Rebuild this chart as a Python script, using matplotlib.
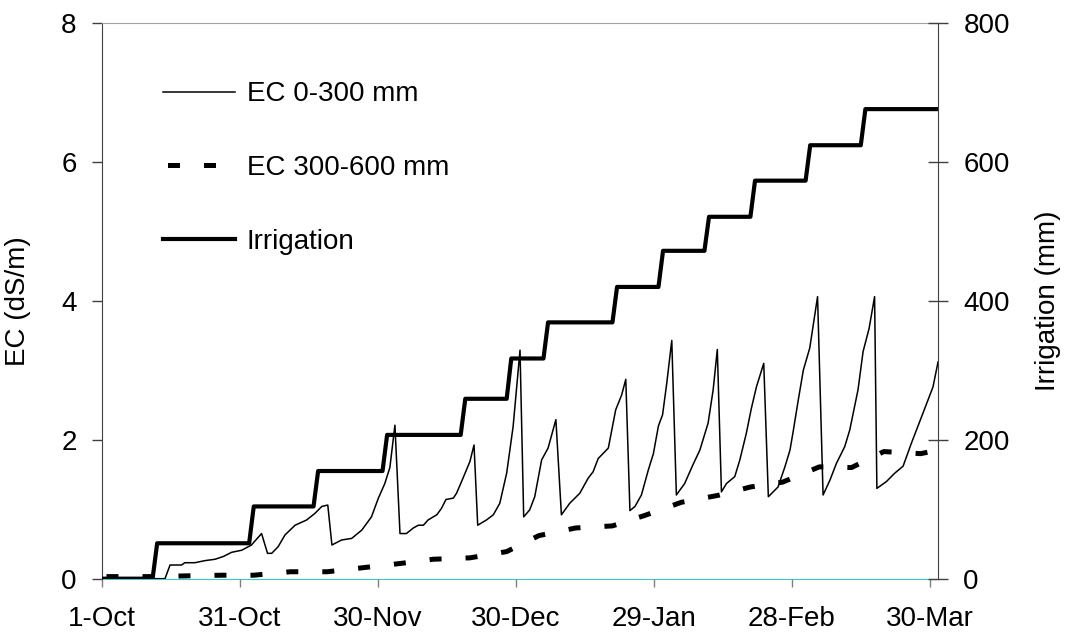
import matplotlib
matplotlib.use('Agg')
import matplotlib.pyplot as plt

plt.rcParams['font.family'] = ['Liberation Sans', 'DejaVu Sans']

# days after 1-Oct
tick_days = [0, 30, 60, 90, 120, 150, 180]
tick_labels = ['1-Oct', '31-Oct', '30-Nov', '30-Dec', '29-Jan', '28-Feb', '30-Mar']

# EC 0-300 mm (dS/m)
ec_top_days = [0, 13.7, 14.8, 17.3, 18, 20.2, 22.4, 24.6, 26.4, 28.2, 30.4, 32.5, 34.7, 36, 36.9,
               38.3, 39.8, 42, 44.5, 46.3, 47.8, 49.1, 50, 52.1, 54.3, 56.5, 58.6, 60.1, 61.5,
               62.6, 63.7, 64.8, 66.2, 67.7, 68.8, 69.9, 70.9, 72.8, 73.8, 74.8, 76.4, 77.1,
               78.2, 80, 80.9, 81.7, 83.6, 85.1, 86.5, 88, 89.4, 90.9, 91.7, 93, 94.1, 95.6,
               97, 98.7, 99.9, 101.7, 103.9, 105.7, 106.8, 107.9, 110.1, 111.7, 113, 113.9,
               114.8, 115.9, 117.3, 118.8, 119.9, 121, 121.9, 122.8, 123.9, 124.9, 126.7,
               128.5, 130, 131.8, 132.9, 133.8, 134.7, 135.8, 137.6, 138.7, 140.1, 141.2,
               142.3, 143.9, 144.9, 147, 148.5, 149.6, 150.3, 151.4, 152.5, 153.9, 155.6,
               156.8, 158.3, 159.7, 161.5, 162.6, 164.4, 165.5, 166.8, 168, 168.5, 170.6,
               172.4, 174.2, 176, 178.5, 180.7, 181.8]
ec_top = [0, 0, 0.197, 0.197, 0.23, 0.23, 0.26, 0.28, 0.32, 0.38, 0.41, 0.485, 0.65, 0.365, 0.365,
          0.46, 0.63, 0.77, 0.845, 0.94, 1.04, 1.06, 0.485, 0.557, 0.58, 0.70, 0.89, 1.16, 1.37,
          1.6, 2.21, 0.65, 0.65, 0.73, 0.77, 0.77, 0.845, 0.92, 1.01, 1.14, 1.16, 1.23,
          1.40, 1.685, 1.925, 0.77, 0.845, 0.92, 1.085, 1.52, 2.19, 3.29, 0.89, 0.99, 1.18, 1.71,
          1.88, 2.29, 0.92, 1.085, 1.23, 1.445, 1.54, 1.73, 1.88, 2.43, 2.645, 2.87,
          0.98, 1.04, 1.205, 1.565, 1.8, 2.2, 2.36, 2.81, 3.43, 1.205, 1.37,
          1.64, 1.85, 2.24, 2.72, 3.30, 1.25, 1.37, 1.47, 1.71, 2.09, 2.45,
          2.76, 3.10, 1.18, 1.32, 1.61, 1.85, 2.12, 2.57, 3.00, 3.32, 4.06,
          1.205, 1.42, 1.66, 1.90, 2.14, 2.72, 3.27, 3.60, 4.06, 1.30, 1.40,
          1.52, 1.62, 1.95, 2.38, 2.76, 3.12]

# EC 300-600 mm (dS/m)
ec_deep_days = [0, 10, 18, 26, 33, 41, 49, 57, 65, 72, 80, 88, 95, 103, 111, 118, 126, 134,
                141, 148, 156, 163, 170, 178, 181.8]
ec_deep = [0.03, 0.03, 0.04, 0.05, 0.05, 0.10, 0.10, 0.16, 0.22, 0.28, 0.30, 0.39, 0.62, 0.73,
           0.76, 0.91, 1.10, 1.20, 1.32, 1.39, 1.61, 1.60, 1.83, 1.80, 1.85]

# cumulative irrigation (mm)
irr_days = [0, 11, 12, 32, 33, 46, 47, 61, 62, 78, 79, 88, 89, 96, 97, 111, 112, 121, 122,
            131, 132, 141, 142, 153, 154, 165, 166, 181.8]
irr_mm = [0, 0, 51, 51, 104, 104, 155, 155, 207, 207, 259, 259, 317, 317, 369, 369, 420, 420,
          472, 472, 521, 521, 573, 573, 624, 624, 676, 676]

fs = 20

fig = plt.figure(figsize=(10.69, 6.33), dpi=100)
ax = fig.add_axes([0.0954, 0.0858, 0.7821, 0.8779])
ax2 = ax.twinx()

l1, = ax.plot(ec_top_days, ec_top, color='black', lw=1.1, label='EC 0-300 mm', zorder=3)
l2, = ax.plot(ec_deep_days, ec_deep, color='black', lw=3.6, ls=(6.3, (2.4, 4.8)),
              label='EC 300-600 mm', zorder=3)
l3, = ax2.plot(irr_days, irr_mm, color='black', lw=3.0, label='Irrigation', zorder=3)

ax.set_xlim(0, 181.8)
ax.set_ylim(0, 8)
ax2.set_ylim(0, 800)
ax.set_xticks(tick_days)
ax.set_xticklabels(tick_labels)
ax.set_yticks([0, 2, 4, 6, 8])
ax2.set_yticks([0, 200, 400, 600, 800])

ax.tick_params(axis='x', direction='out', length=6, width=1, color='#808080',
               labelsize=fs, pad=14)
ax.tick_params(axis='y', direction='out', length=7.2, width=1, color='#404040',
               labelsize=fs, pad=11)
ax2.tick_params(axis='y', direction='inout', length=14.4, width=1, color='#404040',
                labelsize=fs, pad=11)

for s in ['left', 'top', 'bottom']:
    ax2.spines[s].set_visible(False)
ax.spines['right'].set_visible(False)
ax.spines['top'].set_color('#a0a0a0')
ax.spines['left'].set_color('#404040')
ax.spines['bottom'].set_color('#3cc8c8')
ax2.spines['right'].set_color('#404040')
ax.spines['bottom'].set_zorder(0)

ax.set_ylabel('EC (dS/m)', fontsize=fs)
ax.yaxis.set_label_coords(-0.085, 0.5)
ax2.set_ylabel('Irrigation (mm)', fontsize=fs)
ax2.yaxis.set_label_coords(1.116, 0.5)

ax2.legend(handles=[l1, l2, l3], loc='upper left', bbox_to_anchor=(0.073, 0.895),
           frameon=False, fontsize=fs, borderpad=0, borderaxespad=0,
           handlelength=2.59, handletextpad=0.42, labelspacing=1.72)

fig.savefig('out.png', dpi=100)
